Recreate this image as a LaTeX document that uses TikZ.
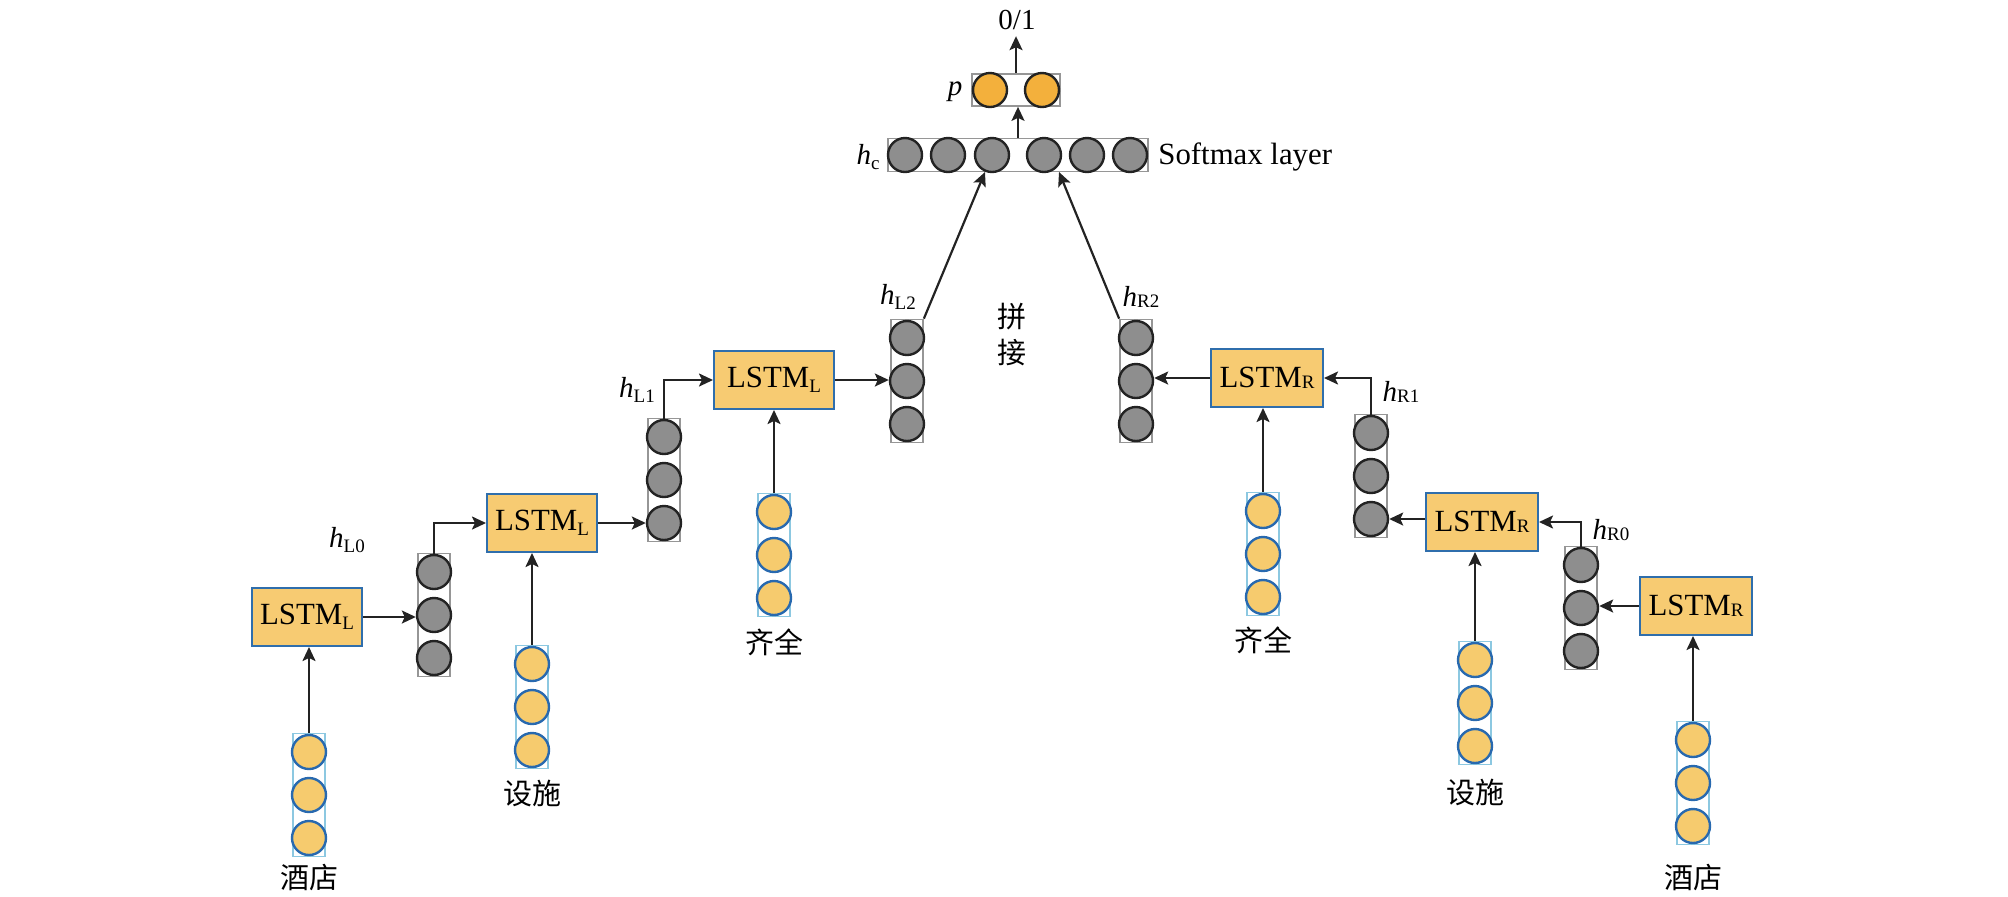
\documentclass[tikz,border=0pt]{standalone}
\usepackage{fontspec}
\setmainfont{Liberation Serif}
\newfontfamily\cjk{Noto Sans CJK SC}
\usetikzlibrary{arrows.meta,calc}
\definecolor{lstmfill}{RGB}{247,203,114}
\definecolor{lstmedge}{RGB}{47,110,172}
\definecolor{ycirc}{RGB}{246,203,110}
\definecolor{yedge}{RGB}{40,105,175}
\definecolor{ybox}{RGB}{140,200,225}
\definecolor{gcirc}{RGB}{142,142,142}
\definecolor{gedge}{RGB}{35,35,35}
\definecolor{gbox}{RGB}{150,150,150}
\definecolor{pcirc}{RGB}{243,176,60}
\definecolor{arr}{RGB}{35,35,35}
\newcommand{\lsub}[1]{\raisebox{-2.5pt}{\fontsize{9.5}{10}\selectfont #1}}
\newcommand{\rsub}[1]{\raisebox{-0.5pt}{\fontsize{9.5}{10}\selectfont #1}}
\newcommand{\mkcol}[4]{%
  \node[#4col] (#1) at (#2,#3) {};
  \node[#4c] (#1-1) at (#2,#3-43) {};
  \node[#4c] (#1-2) at (#2,#3) {};
  \node[#4c] (#1-3) at (#2,#3+43) {};
}
\begin{document}
\begin{tikzpicture}[x=0.5pt,y=-0.5pt,
  lstm/.style={draw=lstmedge, fill=lstmfill, line width=1pt, minimum width=56pt, minimum height=29pt, inner sep=0pt, font=\fontsize{15.4}{16}\selectfont},
  gcol/.style={draw=gbox, line width=0.85pt, minimum width=16pt, minimum height=61.5pt, inner sep=0pt},
  ycol/.style={draw=ybox, line width=0.85pt, minimum width=16pt, minimum height=61.5pt, inner sep=0pt},
  gc/.style={circle, draw=gedge, fill=gcirc, line width=1.2pt, minimum size=17pt, inner sep=0pt},
  yc/.style={circle, draw=yedge, fill=ycirc, line width=1.2pt, minimum size=17pt, inner sep=0pt},
  pc/.style={circle, draw=gedge, fill=pcirc, line width=1.2pt, minimum size=17pt, inner sep=0pt},
  conn/.style={draw=arr, line width=1.1pt, -{Stealth[length=7pt,width=6.5pt,inset=1.5pt]}},
  lbl/.style={font=\fontsize{14.5}{15}\selectfont, inner sep=0pt},
  zh/.style={font=\cjk\fontsize{14.5}{15}\selectfont, inner sep=0pt}]
\useasboundingbox (0,0) rectangle (2008,896);

% top layers
\node[gcol, minimum width=130pt, minimum height=16.5pt] (hc) at (1018,155) {};
\foreach \i/\xx in {1/905,2/948,3/992,4/1044,5/1087,6/1130}{
  \node[gc] (hc-\i) at (\xx,155) {};
}
\node[gcol, minimum width=44pt, minimum height=16pt] (pb) at (1016,90) {};
\node[pc] (p-1) at (990,90) {};
\node[pc] (p-2) at (1042,90) {};
\node[lbl, inner sep=3pt] (out) at (1017,20) {0/1};
\node[lbl] (lp) at (955,92) {\textit{p}};
\node[lbl] (lhc) at (868,157) {\textit{h}\lsub{c}};
\node[lbl, anchor=west, font=\fontsize{15.4}{16}\selectfont] (soft) at (1158,157) {Softmax layer};
\draw[conn] (hc.north) -- (hc.north |- pb.south);
\draw[conn] (pb.north) -- (pb.north |- out.south);

% left chain
\node[lstm, minimum width=55pt] (L1) at (307,617) {LSTM\lsub{L}};
\node[lstm, minimum width=55pt] (L2) at (542,523) {LSTM\lsub{L}};
\node[lstm, minimum width=60pt] (L3) at (774,380) {LSTM\lsub{L}};
\mkcol{hL0}{434}{615}{g}
\mkcol{hL1}{664}{480}{g}
\mkcol{hL2}{907}{381}{g}
\mkcol{yl1}{309}{795}{y}
\mkcol{yl2}{532}{707}{y}
\mkcol{yl3}{774}{555}{y}
\node[zh] (tl1) at (309,878) {酒店};
\node[zh] (tl2) at (532,793) {设施};
\node[zh] (tl3) at (774,642) {齐全};
\node[lbl] (lhL0) at (347,540) {\textit{h}\lsub{L0}};
\node[lbl] (lhL1) at (637,390) {\textit{h}\lsub{L1}};
\node[lbl] (lhL2) at (898,297) {\textit{h}\lsub{L2}};

\draw[conn] (yl1.north) -- (yl1.north |- L1.south);
\draw[conn] (yl2.north) -- (yl2.north |- L2.south);
\draw[conn] (yl3.north) -- (yl3.north |- L3.south);
\draw[conn] (L1.east) -- (L1.east -| hL0-2.west);
\draw[conn] (hL0-1.north) |- (L2.west);
\draw[conn] (L2.east) -- (L2.east -| hL1-3.west);
\draw[conn] (hL1-1.north) |- (L3.west);
\draw[conn] (L3.east) -- (L3.east -| hL2-2.west);

% right chain
\node[lstm] (R3) at (1267,378) {LSTM\rsub{R}};
\node[lstm] (R2) at (1482,522) {LSTM\rsub{R}};
\node[lstm] (R1) at (1696,606) {LSTM\rsub{R}};
\mkcol{hR2}{1136}{381}{g}
\mkcol{hR1}{1371}{476}{g}
\mkcol{hR0}{1581}{608}{g}
\mkcol{yr3}{1263}{554}{y}
\mkcol{yr2}{1475}{703}{y}
\mkcol{yr1}{1693}{783}{y}
\node[zh] (tr1) at (1693,878) {酒店};
\node[zh] (tr2) at (1475,792) {设施};
\node[zh] (tr3) at (1263,640) {齐全};
\node[lbl] (lhR0) at (1611,530) {\textit{h}\rsub{R0}};
\node[lbl] (lhR1) at (1401,392) {\textit{h}\rsub{R1}};
\node[lbl] (lhR2) at (1141,297) {\textit{h}\rsub{R2}};

\draw[conn] (yr1.north) -- (yr1.north |- R1.south);
\draw[conn] (yr2.north) -- (yr2.north |- R2.south);
\draw[conn] (yr3.north) -- (yr3.north |- R3.south);
\draw[conn] (R1.west) -- (R1.west -| hR0-2.east);
\draw[conn] (hR0-1.north) |- (R2.east);
\draw[conn] (R2.west |- hR1-3.east) -- (hR1-3.east);
\draw[conn] (hR1-1.north) |- (R3.east);
\draw[conn] (R3.west) -- (R3.west -| hR2-2.east);

% concatenation
\coordinate (hcinL) at (985,172);
\coordinate (hcinR) at (1059,172);
\draw[conn] (hL2.north east) -- (hcinL);
\draw[conn] (hR2.north west) -- (hcinR);
\node[zh] (pin) at (1012,317) {拼};
\node[zh] (jie) at (1012,353) {接};
\end{tikzpicture}
\end{document}
